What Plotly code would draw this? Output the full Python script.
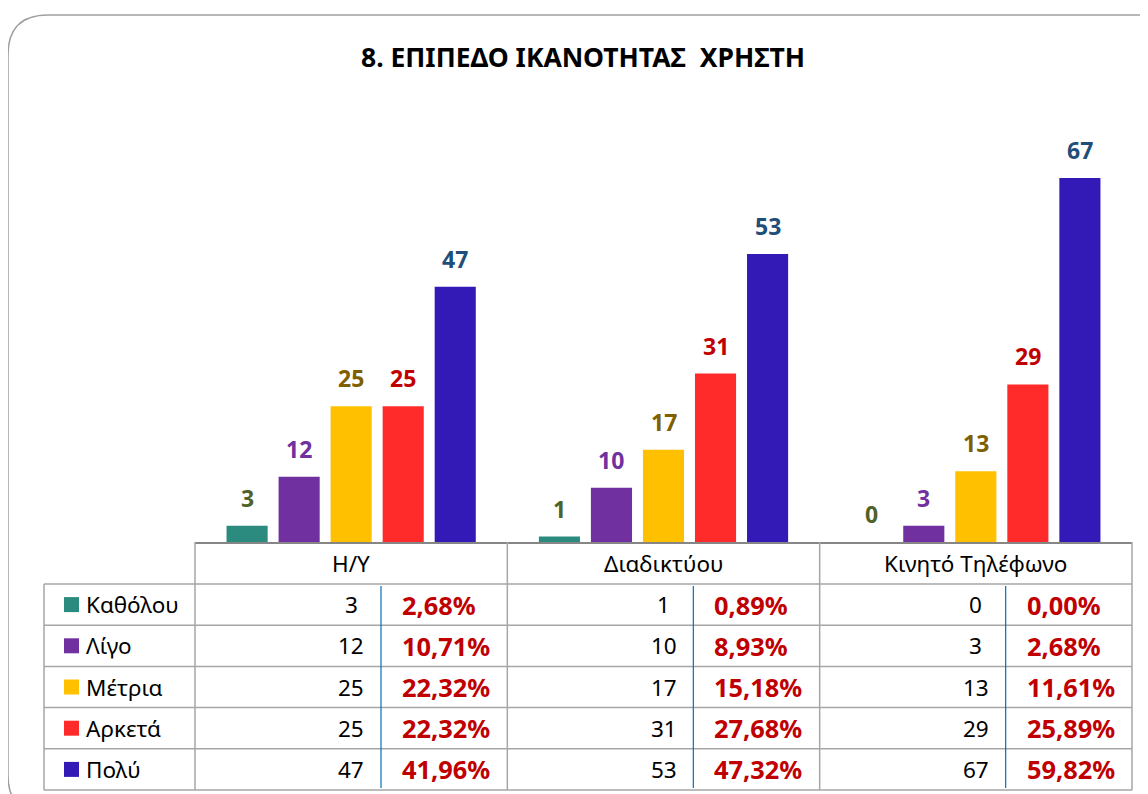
import plotly.graph_objects as go

# ---------------- data ----------------
categories = ["H/Y", "Διαδικτύου", "Κινητό Τηλέφωνο"]
levels = ["Καθόλου", "Λίγο", "Μέτρια", "Αρκετά", "Πολύ"]

katholou = [3, 1, 0]
ligo = [12, 10, 3]
metria = [25, 17, 13]
arketa = [25, 31, 29]
poly = [47, 53, 67]

pct_katholou = ["2,68%", "0,89%", "0,00%"]
pct_ligo = ["10,71%", "8,93%", "2,68%"]
pct_metria = ["22,32%", "15,18%", "11,61%"]
pct_arketa = ["22,32%", "27,68%", "25,89%"]
pct_poly = ["41,96%", "47,32%", "59,82%"]

title_text = "8. ΕΠΙΠΕΔΟ ΙΚΑΝΟΤΗΤΑΣ\u00a0 ΧΡΗΣΤΗ"

# ---------------- style ----------------
bar_colors = ["#2A8B7E", "#7030A0", "#FFC000", "#FF2B2B", "#331AB6"]
label_colors = ["#4F6228", "#7030A0", "#7F6000", "#C00000", "#1F4E79"]
FONT = "Noto Sans"

series = [katholou, ligo, metria, arketa, poly]
pcts = [pct_katholou, pct_ligo, pct_metria, pct_arketa, pct_poly]

W, H = 1148, 794
OFF = 8                                # page offset of the figure in the browser
PL, PR, PT, PB = 195, 1132, 100, 542   # plot area in screen pixels
BARGAP = 0.167
GROUPGAP = 0.21
YMAX = 81.35


def fx(p):
    return (p - PL) / (PR - PL)


def fy(p):
    return (PB - p) / (PB - PT)


fig = go.Figure()
for j, (name, vals) in enumerate(zip(levels, series)):
    fig.add_trace(go.Bar(
        x=categories, y=vals, name=name,
        marker=dict(color=bar_colors[j], line=dict(width=0)),
        showlegend=False, hoverinfo="x+y+name",
    ))

annotations = []
shapes = []

# value labels above bars (positioned on the category axis)
slot = (1 - BARGAP) / len(levels)
for j, vals in enumerate(series):
    for i, v in enumerate(vals):
        annotations.append(dict(
            x=i + (j - (len(levels) - 1) / 2) * slot, y=v, xref="x", yref="y",
            text=f"<b>{v}</b>", showarrow=False, yanchor="bottom", yshift=10,
            font=dict(family=FONT, size=23, color=label_colors[j]),
        ))

# title
annotations.append(dict(
    x=fx(583), y=fy(57), xref="paper", yref="paper", text=f"<b>{title_text}</b>",
    showarrow=False, xanchor="center", yanchor="middle",
    font=dict(family=FONT, size=26.5, color="#000000"),
))

# ---------------- data table ----------------
gw = (PR - PL) / len(categories)
HEAD_TOP, HEAD_BOT = 542, 584
ROW_H = (790 - 584) / len(levels)
LEFT = 44
line_col = "#A6A6A6"
TXT = 22.5


def hline(y, x0, x1, col=line_col, w=1.5):
    shapes.append(dict(type="line", xref="paper", yref="paper", x0=fx(x0), x1=fx(x1),
                       y0=fy(y), y1=fy(y), line=dict(color=col, width=w)))


def vline(x, y0, y1, col=line_col, w=1.5):
    shapes.append(dict(type="line", xref="paper", yref="paper", x0=fx(x), x1=fx(x),
                       y0=fy(y0), y1=fy(y1), line=dict(color=col, width=w)))


bottom = HEAD_BOT + ROW_H * len(levels)
for i in range(len(categories) + 1):
    vline(PL + i * gw, HEAD_TOP, bottom)
vline(LEFT, HEAD_BOT, bottom)
for k in range(len(levels) + 1):
    hline(HEAD_BOT + k * ROW_H, LEFT, PR)

for i, cat in enumerate(categories):
    gl = PL + i * gw
    annotations.append(dict(
        x=fx(gl + gw / 2), y=fy((HEAD_TOP + HEAD_BOT) / 2), xref="paper", yref="paper",
        text=cat, showarrow=False, xanchor="center", yanchor="middle",
        font=dict(family=FONT, size=TXT, color="#000000"),
    ))
    vline(gl + 186, HEAD_BOT + 2, bottom - 2, col="#0070C0", w=1.2)

for k, name in enumerate(levels):
    cy = HEAD_BOT + (k + 0.5) * ROW_H
    shapes.append(dict(type="rect", xref="paper", yref="paper",
                       x0=fx(64), x1=fx(79), y0=fy(cy - 7.5), y1=fy(cy + 7.5),
                       fillcolor=bar_colors[k], line=dict(width=0)))
    annotations.append(dict(
        x=fx(84), y=fy(cy), xref="paper", yref="paper", text=name, showarrow=False,
        xanchor="left", yanchor="middle",
        font=dict(family=FONT, size=TXT, color="#000000"),
    ))
    for i in range(len(categories)):
        gl = PL + i * gw
        annotations.append(dict(
            x=fx(gl + gw / 2), y=fy(cy), xref="paper", yref="paper",
            text=str(series[k][i]), showarrow=False, xanchor="center", yanchor="middle",
            font=dict(family=FONT, size=TXT, color="#000000"),
        ))
        annotations.append(dict(
            x=fx(gl + 205), y=fy(cy), xref="paper", yref="paper",
            text=f"<b>{pcts[k][i]}</b>", showarrow=False, xanchor="left", yanchor="middle",
            font=dict(family=FONT, size=25.4, color="#C00000"),
        ))

# rounded outer border
r = 40
bx0, bx1, by0, by1 = 8, 1182, 15, 815
path = (f"M {fx(bx0 + r)},{fy(by0)} L {fx(bx1 - r)},{fy(by0)} "
        f"Q {fx(bx1)},{fy(by0)} {fx(bx1)},{fy(by0 + r)} "
        f"L {fx(bx1)},{fy(by1 - r)} Q {fx(bx1)},{fy(by1)} {fx(bx1 - r)},{fy(by1)} "
        f"L {fx(bx0 + r)},{fy(by1)} Q {fx(bx0)},{fy(by1)} {fx(bx0)},{fy(by1 - r)} "
        f"L {fx(bx0)},{fy(by0 + r)} Q {fx(bx0)},{fy(by0)} {fx(bx0 + r)},{fy(by0)} Z")
shapes.append(dict(type="path", xref="paper", yref="paper", path=path,
                   line=dict(color="#A0A0A0", width=1.5), fillcolor="rgba(0,0,0,0)"))

fig.update_layout(
    width=W, height=H, autosize=False,
    margin=dict(l=PL - OFF, r=W - (PR - OFF), t=PT - OFF, b=H - (PB - OFF), pad=0),
    barmode="group", bargap=BARGAP, bargroupgap=GROUPGAP,
    paper_bgcolor="#FFFFFF", plot_bgcolor="#FFFFFF",
    xaxis=dict(type="category", range=[-0.5, len(categories) - 0.5], showticklabels=False,
               showgrid=False, zeroline=False, ticks="", showline=True,
               linecolor="#868686", linewidth=2, fixedrange=True),
    yaxis=dict(range=[0, YMAX], visible=False, showgrid=False, zeroline=False, fixedrange=True),
    annotations=annotations, shapes=shapes,
    font=dict(family=FONT),
)

fig.write_html("out.html")
